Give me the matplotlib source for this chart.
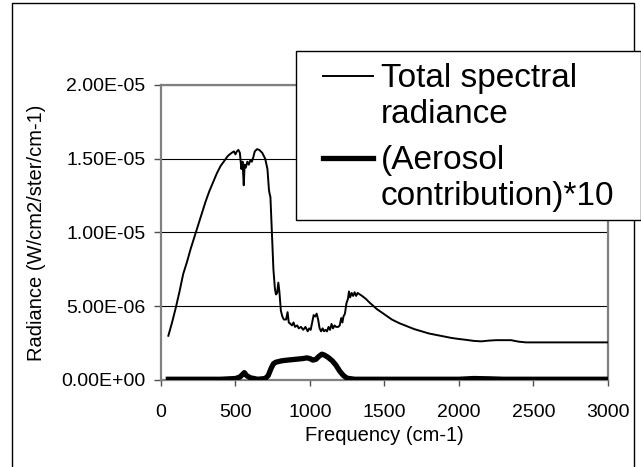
import matplotlib
matplotlib.use("Agg")
import matplotlib.pyplot as plt
from matplotlib.lines import Line2D
from matplotlib.patches import Rectangle
import numpy as np

plt.rcParams['font.family'] = ['Liberation Sans', 'DejaVu Sans']

# 频率 (cm-1) 与 总光谱辐亮度 (单位 1E-06 W/cm2/ster/cm-1)
freq_total = [50, 75, 100, 125, 150, 175, 200, 225, 250, 275, 300, 325, 350, 375,
              400, 425, 450, 475, 490, 500, 510, 520, 530, 540, 548, 556, 562, 570,
              580, 590, 600, 610, 620, 630, 645, 660, 680, 700, 715, 725, 730, 735,
              745, 755, 765, 772, 780, 788, 795, 805, 815, 825, 840, 850, 858, 870,
              880, 890, 900, 915, 925, 940, 955, 970, 985, 995, 1005, 1015, 1025,
              1035, 1045, 1055, 1065, 1075, 1085, 1095, 1105, 1115, 1125, 1135, 1145,
              1155, 1165, 1175, 1190, 1200, 1210, 1218, 1225, 1235, 1245, 1255, 1262,
              1270, 1280, 1290, 1300, 1310, 1320, 1335, 1350, 1375, 1400, 1450, 1500,
              1550, 1600, 1650, 1700, 1750, 1800, 1850, 1900, 1950, 2000, 2050, 2100,
              2150, 2200, 2250, 2300, 2350, 2400, 2450, 2500, 2600, 2700, 2800, 2900, 3000]
total = [3.0, 3.9, 4.9, 6.0, 7.2, 8.0, 8.9, 9.7, 10.5, 11.3, 12.1, 12.8, 13.4, 14.0,
         14.5, 14.85, 15.2, 15.4, 15.5, 15.3, 15.5, 15.6, 15.4, 14.3, 14.8, 13.2, 14.6, 14.4,
         14.8, 14.6, 14.9, 14.8, 15.1, 15.5, 15.65, 15.6, 15.4, 15.0, 14.3, 12.9, 12.6, 12.4,
         10.0, 7.5, 6.2, 5.8, 5.9, 6.6, 6.0, 4.7, 4.3, 4.1, 4.1, 4.6, 3.9, 3.8,
         3.7, 3.9, 3.6, 3.7, 3.5, 3.6, 3.4, 3.6, 3.3, 3.5, 3.4, 3.9, 4.4,
         4.3, 4.5, 4.1, 3.5, 3.3, 3.5, 3.3, 3.4, 3.3, 3.6, 3.4, 3.8,
         3.5, 3.7, 3.6, 3.6, 3.7, 4.2, 3.9, 4.3, 4.5, 5.2, 5.5, 6.0,
         5.6, 5.9, 5.7, 5.95, 5.7, 5.9, 5.8, 5.7, 5.5, 5.25, 4.8, 4.45,
         4.1, 3.85, 3.65, 3.45, 3.3, 3.15, 3.05, 2.95, 2.85, 2.78, 2.72, 2.65,
         2.62, 2.67, 2.7, 2.7, 2.7, 2.6, 2.55, 2.55, 2.55, 2.55, 2.55, 2.55, 2.55]

# 气溶胶贡献 *10 (单位 1E-06)
freq_aer = [50, 400, 500, 530, 550, 560, 575, 600, 650, 700, 720, 740, 755, 770, 790,
            810, 850, 900, 950, 980, 1000, 1020, 1040, 1060, 1080, 1095, 1120, 1150,
            1175, 1200, 1225, 1250, 1300, 2000, 2100, 2200, 2300, 3000]
aerosol = [0.05, 0.05, 0.1, 0.2, 0.4, 0.5, 0.3, 0.15, 0.05, 0.1, 0.3, 0.8, 1.1, 1.2, 1.25,
           1.3, 1.35, 1.4, 1.45, 1.5, 1.45, 1.35, 1.4, 1.6, 1.75, 1.7, 1.55, 1.3,
           1.0, 0.6, 0.3, 0.12, 0.05, 0.05, 0.1, 0.08, 0.05, 0.05]

yticks = [0, 5e-6, 1e-5, 1.5e-5, 2e-5]
ytick_labels = ["0.00E+00", "5.00E-06", "1.00E-05", "1.50E-05", "2.00E-05"]
xticks = [0, 500, 1000, 1500, 2000, 2500, 3000]

fig = plt.figure(figsize=(6.41, 4.67), dpi=100)
ax = fig.add_axes([0.251, 0.1863, 0.6975, 0.6317])

ax.plot(freq_total, np.array(total) * 1e-6, color="black", lw=1.4, zorder=3,
        label="Total spectral\nradiance")
ax.plot(freq_aer, np.array(aerosol) * 1e-6, color="black", lw=3.8, zorder=3,
        label="(Aerosol\ncontribution)*10")

ax.set_xlim(0, 3000)
ax.set_ylim(0, 2e-5)
ax.set_xticks(xticks)
ax.set_yticks(yticks)
ax.set_yticklabels(ytick_labels)
ax.yaxis.grid(True, color="black", lw=0.8)
ax.set_axisbelow(True)

for s in ax.spines.values():
    s.set_color("#808080")
    s.set_linewidth(1.6)
ax.tick_params(axis="y", length=5, width=1, color="#505050", labelsize=14, pad=6)
ax.tick_params(axis="x", length=4, width=1, color="#505050", labelsize=14, pad=13)

ax.set_xlabel("Frequency (cm-1)", fontsize=14.5, labelpad=4)
ax.set_ylabel("Radiance (W/cm2/ster/cm-1)", fontsize=14.5, labelpad=11)

# 图外框
fig.patches.append(Rectangle((12 / 641, -0.1), 622 / 641, 1.1 - 3 / 467,
                             transform=fig.transFigure, fill=False,
                             edgecolor="black", lw=1.0))

# 图例 (Excel 风格, 线条与第一行文字对齐)
lx0, ly_top, ly_bot, lx1 = 296 / 641, 1 - 51 / 467, 1 - 220 / 467, 1.0
fig.patches.append(Rectangle((lx0, ly_bot), lx1 - lx0, ly_top - ly_bot,
                             transform=fig.transFigure, facecolor="white",
                             edgecolor="black", lw=1.0, zorder=5))
handles = ax.get_lines()
handle_y = [1 - 76 / 467, 1 - 158 / 467]
text_y = [1 - 123 / 467, 1 - 205 / 467]   # 末行基线
for h, hy, ty in zip(handles, handle_y, text_y):
    fig.lines.append(Line2D([323 / 641, 373 / 641], [hy, hy], transform=fig.transFigure,
                            color="black", lw=h.get_linewidth(), zorder=6))
    fig.text(381 / 641, ty, h.get_label(), fontsize=24, va="baseline",
             ha="left", linespacing=1.2, zorder=6)

fig.savefig("out.png", dpi=100)
